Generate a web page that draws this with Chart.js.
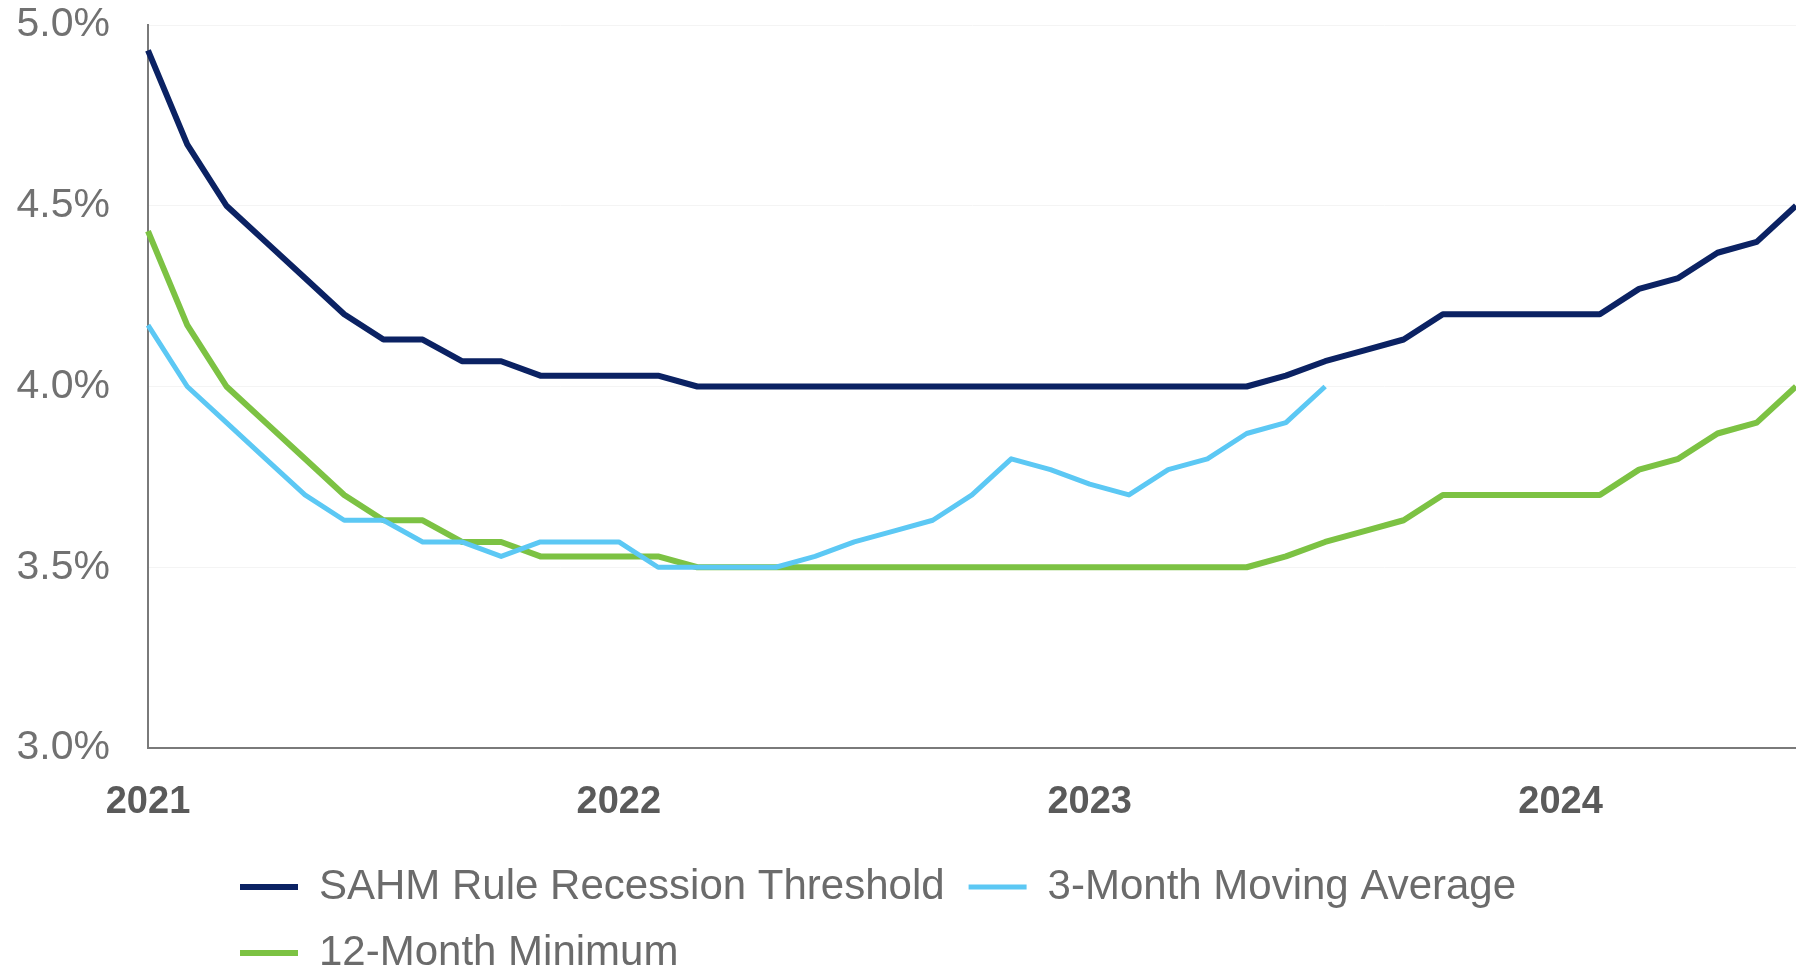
<!DOCTYPE html>
<html>
<head>
<meta charset="utf-8">
<script src="https://cdn.jsdelivr.net/npm/chart.js@4/dist/chart.umd.min.js"></script>
<style>
  body { margin: 0; background: #fff; }
  canvas { display: block; }
</style>
</head>
<body>
<canvas id="myChart" width="1796" height="972"></canvas>
<script>
// monthly categories
const months = [
    'Jan 2021','Feb 2021','Mar 2021','Apr 2021','May 2021','Jun 2021','Jul 2021','Aug 2021','Sep 2021','Oct 2021','Nov 2021','Dec 2021',
    'Jan 2022','Feb 2022','Mar 2022','Apr 2022','May 2022','Jun 2022','Jul 2022','Aug 2022','Sep 2022','Oct 2022','Nov 2022','Dec 2022',
    'Jan 2023','Feb 2023','Mar 2023','Apr 2023','May 2023','Jun 2023','Jul 2023','Aug 2023','Sep 2023','Oct 2023','Nov 2023','Dec 2023',
    'Jan 2024','Feb 2024','Mar 2024','Apr 2024','May 2024','Jun 2024','Jul 2024'
];
const yearTicks = ['2021', '2022', '2023', '2024'];

const sahmThreshold = [4.93, 4.67, 4.50, 4.40, 4.30, 4.20, 4.13, 4.13, 4.07, 4.07, 4.03, 4.03, 4.03, 4.03,
    4.00, 4.00, 4.00, 4.00, 4.00, 4.00, 4.00, 4.00, 4.00, 4.00, 4.00, 4.00, 4.00, 4.00, 4.00,
    4.03, 4.07, 4.10, 4.13, 4.20, 4.20, 4.20, 4.20, 4.20, 4.27, 4.30, 4.37, 4.40, 4.50];
const movingAvg3 = [4.17, 4.00, 3.90, 3.80, 3.70, 3.63, 3.63, 3.57, 3.57, 3.53, 3.57, 3.57, 3.57,
    3.50, 3.50, 3.50, 3.50, 3.53, 3.57, 3.60, 3.63, 3.70, 3.80, 3.77, 3.73, 3.70, 3.77, 3.80, 3.87, 3.90, 4.00];
const min12 = [4.43, 4.17, 4.00, 3.90, 3.80, 3.70, 3.63, 3.63, 3.57, 3.57, 3.53, 3.53, 3.53, 3.53,
    3.50, 3.50, 3.50, 3.50, 3.50, 3.50, 3.50, 3.50, 3.50, 3.50, 3.50, 3.50, 3.50, 3.50, 3.50,
    3.53, 3.57, 3.60, 3.63, 3.70, 3.70, 3.70, 3.70, 3.70, 3.77, 3.80, 3.87, 3.90, 4.00];

// legend: wrap the rows narrower than the canvas and move them under the plot
const legendWrap = {
    id: 'legendWrap',
    afterInit(chart) {
        const lg = chart.legend;
        const update = lg.update.bind(lg);
        lg.update = (w, h, m) => update(1500, h, m);
    },
    afterLayout(chart) {
        chart.legend.left = 216;
        chart.legend.top = 842;
    }
};

function noPad(scale) {
    scale.paddingTop = 0;
    scale.paddingBottom = 0;
    scale.paddingLeft = 0;
    scale.paddingRight = 0;
}

const ctx = document.getElementById('myChart').getContext('2d');

const myChart = new Chart(ctx, {
    type: 'line',
    data: {
        labels: months,
        datasets: [{
            label: 'SAHM Rule Recession Threshold',
            data: sahmThreshold,
            borderColor: '#0b2263',
            borderWidth: 6
        }, {
            label: '3-Month Moving Average',
            data: movingAvg3,
            borderColor: '#5cc8f4',
            borderWidth: 5
        }, {
            label: '12-Month Minimum',
            data: min12,
            borderColor: '#7cc243',
            borderWidth: 6
        }]
    },
    options: {
        responsive: false,
        animation: false,
        layout: { padding: { top: 25, left: 0, right: 0, bottom: 0 } },
        elements: {
            point: { radius: 0 },
            line: { tension: 0, fill: false, borderJoinStyle: 'round' }
        },
        scales: {
            x: {
                grid: { display: false, drawTicks: false },
                border: { color: '#7a7a7a', width: 2 },
                ticks: {
                    autoSkip: false,
                    maxRotation: 0,
                    padding: 32,
                    color: '#5a5a5a',
                    font: { family: 'Liberation Sans', size: 38, weight: 'bold' },
                    callback: function(value, index) {
                        return index % 12 === 0 ? yearTicks[index / 12] : '';
                    }
                },
                afterFit: function(scale) { scale.height = 82; noPad(scale); }
            },
            y: {
                min: 3,
                max: 5,
                grid: { color: '#f4f4f4', drawTicks: false },
                border: { color: '#7a7a7a', width: 2 },
                ticks: {
                    stepSize: 0.5,
                    padding: 38,
                    color: '#717171',
                    font: { family: 'Liberation Sans', size: 41 },
                    callback: function(value) { return value.toFixed(1) + '%'; }
                },
                afterFit: function(scale) { scale.width = 148; noPad(scale); }
            }
        },
        plugins: {
            tooltip: { enabled: false },
            legend: {
                position: 'bottom',
                align: 'start',
                labels: {
                    usePointStyle: true,
                    pointStyle: 'line',
                    pointStyleWidth: 58,
                    padding: 24,
                    color: '#6b6b6b',
                    font: { family: 'Liberation Sans', size: 42 }
                }
            }
        }
    },
    plugins: [legendWrap]
});
</script>
</body>
</html>
